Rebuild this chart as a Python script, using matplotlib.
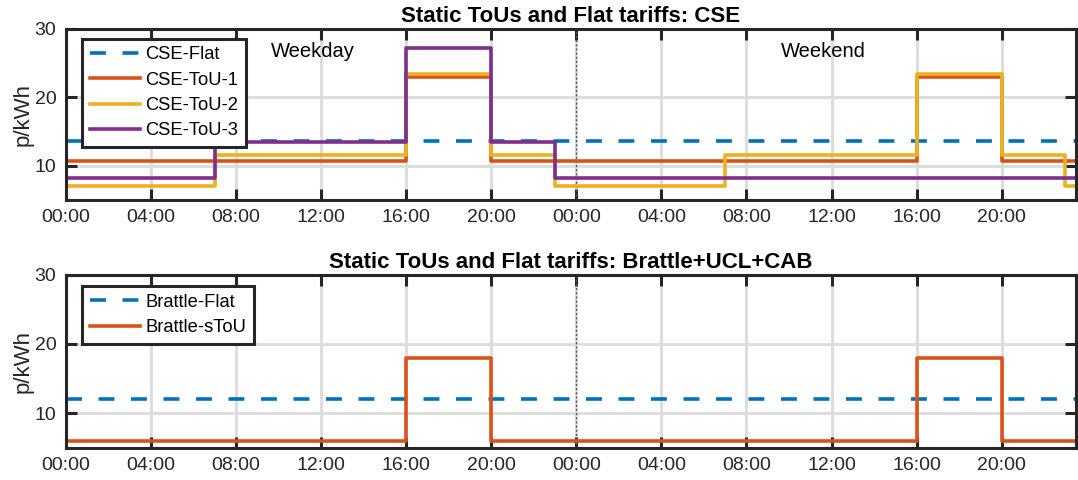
import matplotlib
matplotlib.use("Agg")
import matplotlib.pyplot as plt

# MATLAB default colours
BLUE, ORANGE, YELLOW, PURPLE = "#0072BD", "#D95319", "#EDB120", "#7E2F8E"
DARK = "#262626"

plt.rcParams.update({
    "font.family": "Liberation Sans", "font.size": 14,
    "axes.edgecolor": DARK, "axes.linewidth": 2.2,
    "xtick.color": DARK, "ytick.color": DARK,
    "xtick.direction": "in", "ytick.direction": "in",
    "xtick.major.size": 8, "ytick.major.size": 8,
    "xtick.major.width": 2.2, "ytick.major.width": 2.2,
    "xtick.top": True, "ytick.right": True,
})

# x = hours from weekday 00:00 (weekend starts at 24)
X_MAX = 47.5
tick_pos = [0, 4, 8, 12, 16, 20, 24, 28, 32, 36, 40, 44]
tick_lab = ["00:00", "04:00", "08:00", "12:00", "16:00", "20:00",
            "00:00", "04:00", "08:00", "12:00", "16:00", "20:00"]

# CSE tariffs (p/kWh), step breakpoints in hours
cse_flat_t = [0, X_MAX]
cse_flat_v = [13.6, 13.6]
cse_tou1_t = [0, 16, 20, 40, 44, X_MAX]
cse_tou1_v = [10.6, 22.9, 10.6, 22.9, 10.6, 10.6]
cse_tou2_t = [0, 7, 16, 20, 23, 31, 40, 44, 47, X_MAX]
cse_tou2_v = [7.0, 11.6, 23.4, 11.6, 7.0, 11.6, 23.4, 11.6, 7.0, 7.0]
cse_tou3_t = [0, 7, 16, 20, 23, X_MAX]
cse_tou3_v = [8.1, 13.5, 27.2, 13.5, 8.1, 8.1]

# Brattle+UCL+CAB
br_flat_t = [0, X_MAX]
br_flat_v = [12.0, 12.0]
br_stou_t = [0, 16, 20, 40, 44, X_MAX]
br_stou_v = [6.0, 18.0, 6.0, 18.0, 6.0, 6.0]

LW = 2.6
DASH = (0, (4.4, 4.6))


def style(ax, title):
    ax.set_xlim(0, X_MAX); ax.set_ylim(5, 30)
    ax.set_xticks(tick_pos); ax.set_xticklabels(tick_lab)
    ax.set_yticks([10, 20, 30])
    ax.grid(True, color="#dcdcdc", lw=2.0); ax.set_axisbelow(True)
    ax.axvline(24, color="#555555", lw=1.0, ls=(0, (1.5, 1.5)), zorder=1.5)
    ax.set_ylabel("p/kWh", fontsize=16, color=DARK, labelpad=1)
    ax.set_title(title, fontsize=16, fontweight="bold", pad=5)
    ax.tick_params(labelsize=14, pad=7)


def legend(ax, anchor):
    lg = ax.legend(loc="upper left", bbox_to_anchor=anchor, borderaxespad=0,
                   fontsize=13.2, handlelength=2.75, handletextpad=0.3,
                   labelspacing=0.45, borderpad=0.42, fancybox=False,
                   framealpha=1, edgecolor=DARK)
    lg.get_frame().set_linewidth(2.2)


fig = plt.figure(figsize=(10.78, 4.8), dpi=100)
ax1 = fig.add_axes([0.0612, 0.584, 0.937, 0.356])
ax2 = fig.add_axes([0.0612, 0.0675, 0.937, 0.360])

# top: CSE
ax1.plot(cse_flat_t, cse_flat_v, color=BLUE, lw=LW, ls=DASH, label="CSE-Flat")
ax1.step(cse_tou1_t, cse_tou1_v, where="post", color=ORANGE, lw=LW, label="CSE-ToU-1")
ax1.step(cse_tou2_t, cse_tou2_v, where="post", color=YELLOW, lw=LW, label="CSE-ToU-2")
ax1.step(cse_tou3_t, cse_tou3_v, where="post", color=PURPLE, lw=LW, label="CSE-ToU-3")
style(ax1, "Static ToUs and Flat tariffs: CSE")
ax1.text(11.6, 26.7, "Weekday", ha="center", va="center", fontsize=14.5)
ax1.text(35.6, 26.7, "Weekend", ha="center", va="center", fontsize=14.5)
legend(ax1, (0.0158, 0.9415))

# bottom: Brattle
ax2.plot(br_flat_t, br_flat_v, color=BLUE, lw=LW, ls=DASH, label="Brattle-Flat")
ax2.step(br_stou_t, br_stou_v, where="post", color=ORANGE, lw=LW, label="Brattle-sToU")
style(ax2, "Static ToUs and Flat tariffs: Brattle+UCL+CAB")
legend(ax2, (0.0158, 0.935))

fig.savefig("out.png", dpi=100)
